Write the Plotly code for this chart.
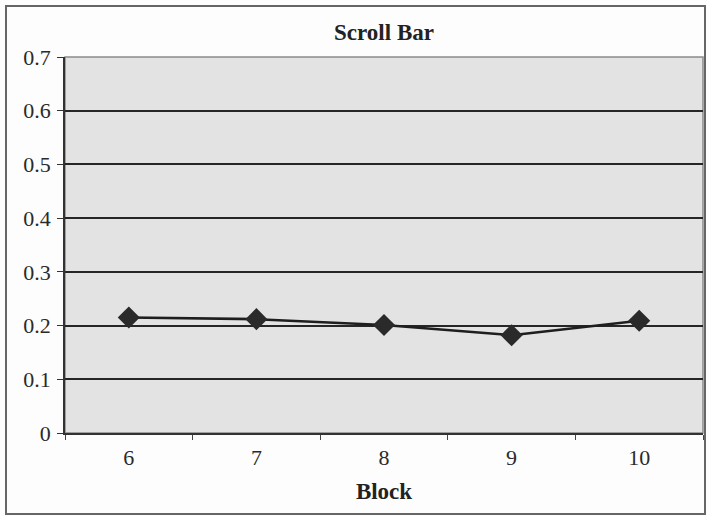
import plotly.graph_objects as go

blocks = ["6", "7", "8", "9", "10"]
values = [0.215, 0.212, 0.201, 0.182, 0.209]
y_ticks = [0, 0.1, 0.2, 0.3, 0.4, 0.5, 0.6, 0.7]
y_tick_labels = ["0", "0.1", "0.2", "0.3", "0.4", "0.5", "0.6", "0.7"]

W, H = 709, 516
L, R, T, B = 65, 6, 57, 83
pw, ph = W - L - R, H - T - B

fig = go.Figure()
fig.add_trace(go.Scatter(
    x=blocks, y=values, mode="lines+markers",
    line=dict(color="#1e1e1e", width=2.5),
    marker=dict(symbol="diamond", size=17, color="#2a2a2a"),
    showlegend=False,
))

font = "Liberation Serif, Times New Roman, serif"
fig.update_layout(
    width=W, height=H,
    margin=dict(l=L, r=R, t=T, b=B),
    paper_bgcolor="#fdfdfd",
    plot_bgcolor="#e3e3e3",
    font=dict(family=font, size=22, color="#2a2a2a"),
    title=dict(text="<b>Scroll Bar</b>", x=0.5, xref="paper", xanchor="center",
               y=1 - 32 / H, yanchor="middle", font=dict(size=23, family=font, color="#222")),
    xaxis=dict(
        type="category", tickson="boundaries", ticks="outside", ticklen=5,
        tickcolor="#444", showline=True, linecolor="#333", linewidth=1.8,
        showgrid=False, mirror=False, range=[-0.5, 4.5],
        ticklabelstandoff=4,
        title=dict(text="<b>Block</b>", font=dict(size=23, family=font, color="#222"), standoff=14),
        tickfont=dict(size=22),
    ),
    yaxis=dict(
        range=[0, 0.7], tickvals=y_ticks, ticktext=y_tick_labels,
        ticks="outside", ticklen=6, tickcolor="#333",
        showline=True, linecolor="#333", linewidth=1.8,
        showgrid=True, gridcolor="#262626", gridwidth=1.6,
        zeroline=False, tickfont=dict(size=22), ticklabelstandoff=2,
    ),
)

# plot area border (top/right)
fig.add_shape(type="rect", xref="paper", yref="paper", x0=0, x1=1, y0=0, y1=1,
              line=dict(color="#8a8a8a", width=1.5), layer="below")
# outer frame
fig.add_shape(type="rect", xref="paper", yref="paper",
              x0=(6 - L) / pw, x1=(705 - L) / pw,
              y0=(H - B - 514) / ph, y1=(H - B - 6) / ph,
              line=dict(color="#666", width=2))

fig.write_html("out.html")
